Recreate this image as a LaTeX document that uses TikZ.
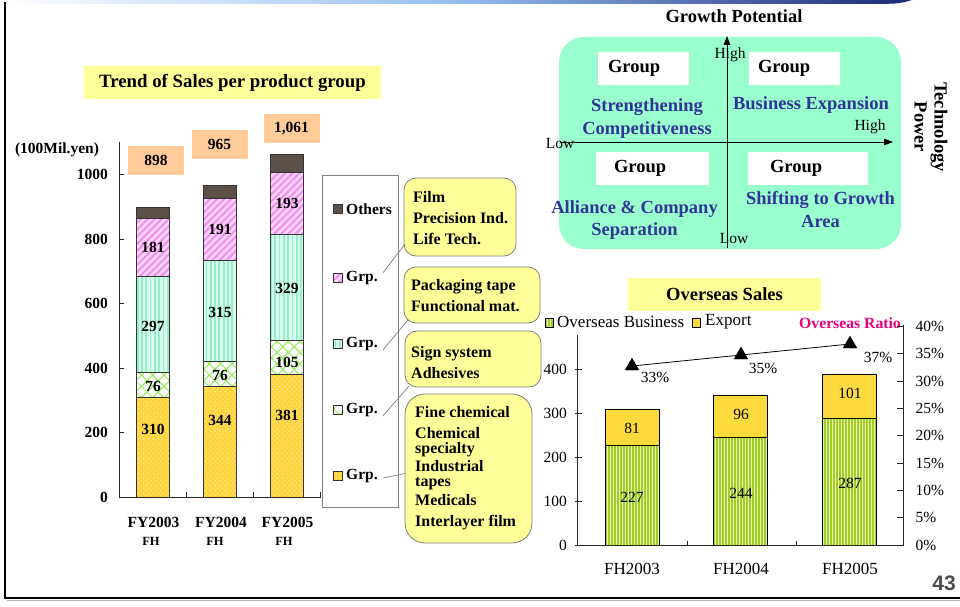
\documentclass[tikz,border=0pt]{standalone}
\usepackage{fontspec}
\setmainfont{Liberation Serif}
\newfontfamily\arialfont{Liberation Sans}
\usetikzlibrary{patterns.meta,shapes.geometric,arrows.meta,calc}
\definecolor{titleyel}{RGB}{255,255,153}
\definecolor{totorange}{RGB}{255,204,153}
\definecolor{quadgreen}{RGB}{153,255,204}
\definecolor{quadblue}{RGB}{51,51,153}
\definecolor{ratiomag}{RGB}{230,0,126}
\definecolor{othersbrown}{RGB}{90,80,72}
\definecolor{yelbase}{RGB}{255,212,60}
\definecolor{yeldot}{RGB}{255,238,160}
\definecolor{mintbase}{RGB}{215,255,238}
\definecolor{mintline}{RGB}{150,238,200}
\definecolor{pinkbase}{RGB}{255,215,255}
\definecolor{pinkline}{RGB}{240,145,240}
\definecolor{crossline}{RGB}{150,235,90}
\definecolor{ovbase}{RGB}{232,246,175}
\definecolor{ovline}{RGB}{160,205,40}
\definecolor{expyel}{RGB}{250,218,60}
\definecolor{navy}{RGB}{30,40,120}
\definecolor{midblue}{RGB}{150,190,240}
\definecolor{calloutgray}{RGB}{128,128,128}
\newcommand{\leftseg}[4]{\path[#4] ({#1-16.5},{497-0.3225*#2}) rectangle ({#1+16.5},{497-0.3225*#3});}
\newcommand{\ovseg}[4]{\path[#4] ({#1-27},{545-0.44*#2}) rectangle ({#1+27},{545-0.44*#3});}
\begin{document}
\begin{tikzpicture}[x=1pt,y=-1pt,
  tb15/.style={font=\fontsize{15.5}{18}\selectfont\bfseries, inner sep=0pt},
  tb12/.style={font=\fontsize{12.5}{14}\selectfont\bfseries, inner sep=0pt},
  tb18/.style={font=\fontsize{18.5}{22}\selectfont\bfseries, inner sep=0pt},
  tr15/.style={font=\fontsize{15.5}{18}\selectfont, inner sep=0pt},
  tr17/.style={font=\fontsize{17}{20}\selectfont, inner sep=0pt},
  calltext/.style={font=\fontsize{16}{21}\selectfont\bfseries, align=left, inner sep=0pt},
  quadtxt/.style={font=\fontsize{18.5}{22.5}\selectfont\bfseries, text=quadblue, align=center, inner sep=0pt},
  callout/.style={draw=calloutgray, fill=titleyel, rounded corners=12pt, line width=0.8pt, inner sep=0pt},
  yelbox/.style={fill=titleyel, inner sep=0pt},
  totbox/.style={fill=totorange, inner sep=0pt, minimum width=56pt, minimum height=29pt, font=\fontsize{15.5}{18}\selectfont\bfseries},
  groupbox/.style={fill=white, inner sep=0pt, minimum height=33pt, align=left, font=\fontsize{18.5}{22}\selectfont\bfseries},
  barline/.style={draw=black!80, line width=0.7pt},
  segyel/.style={barline, preaction={fill=yelbase}, pattern={Dots[radius=0.8pt,distance=3.5pt,angle=45]}, pattern color=yeldot},
  segcross/.style={barline, preaction={fill=white}, pattern={Hatch[angle=45,distance=8pt,line width=1pt]}, pattern color=crossline},
  segmint/.style={barline, preaction={fill=mintbase}, pattern={Lines[angle=90,distance=4.3pt,line width=1.8pt]}, pattern color=mintline},
  segpink/.style={barline, preaction={fill=pinkbase}, pattern={Lines[angle=45,distance=5pt,line width=2.2pt]}, pattern color=pinkline},
  segoth/.style={barline, fill=othersbrown},
  segov/.style={draw=black, line width=0.7pt, preaction={fill=ovbase}, pattern={Lines[angle=90,distance=3pt,line width=1.3pt]}, pattern color=ovline},
  segexp/.style={draw=black, line width=0.7pt, fill=expyel},
  axisline/.style={draw=black!85, line width=0.8pt},
  leader/.style={draw=calloutgray, line width=0.7pt},
  qarrow/.style={-{Triangle[length=9pt,width=6.5pt]}, line width=0.9pt},
  ratiomark/.style={regular polygon, regular polygon sides=3, fill=black, inner sep=0pt, minimum size=16pt}
]
\useasboundingbox (0,0) rectangle (960,607);

% ---------- page decoration ----------
\shade[left color=white, right color=navy, middle color=midblue] (0,0) -- (912,0) .. controls (900,3.5) .. (880,4) -- (0,4) -- cycle;
\draw[line width=2.5pt] (5,2) -- (5,598) -- (960,598);
\draw[gray!55, line width=1pt] (7,600.5) -- (960,600.5);
\node[font=\arialfont\fontsize{21}{24}\selectfont\bfseries, text=black!70, inner sep=0pt] (pagenum) at (944,583) {43};

% ---------- left chart ----------
\node[yelbox, minimum width=297pt, minimum height=33pt, font=\fontsize{18.8}{22}\selectfont\bfseries] (ttl) at (232.5,82.5) {Trend of Sales per product group};
\node[tb15] (unit) at (57,150) {(100Mil.yen)};

\leftseg{153}{0}{310}{segyel}
\leftseg{153}{310}{386}{segcross}
\leftseg{153}{386}{683}{segmint}
\leftseg{153}{683}{864}{segpink}
\leftseg{153}{864}{898}{segoth}
\leftseg{220}{0}{344}{segyel}
\leftseg{220}{344}{420}{segcross}
\leftseg{220}{420}{735}{segmint}
\leftseg{220}{735}{926}{segpink}
\leftseg{220}{926}{965}{segoth}
\leftseg{287}{0}{381}{segyel}
\leftseg{287}{381}{486}{segcross}
\leftseg{287}{486}{815}{segmint}
\leftseg{287}{815}{1008}{segpink}
\leftseg{287}{1008}{1061}{segoth}

\draw[axisline] (119,142) -- (119,497) -- (321,497);
\foreach \v in {0,200,...,1000} {
  \draw[axisline] (119,{497-0.3225*\v}) -- ++(5,0);
  \node[tb15, anchor=east] (ly\v) at (108,{497-0.3225*\v}) {\v};
}
\foreach \xx in {186,253,320} \draw[axisline] (\xx,497) -- ++(0,-5);

\foreach \xx/\yy/\tt [count=\i] in {153/429/310, 153/386/76, 153/326/297, 153/247/181,
    220/420/344, 220/375/76, 220/312/315, 220/229/191,
    287/415/381, 287/362/105, 287/288/329, 287/203/193}
  \node[tb15] (bl\i) at (\xx,\yy) {\tt};

\node[totbox] (tot1) at (156,160.5) {898};
\node[totbox] (tot2) at (219.5,144.5) {965};
\node[totbox] (tot3) at (291.5,128.5) {1,061};

\node[tb15] (fy1) at (153.5,522) {FY2003};
\node[tb15] (fy2) at (221,522) {FY2004};
\node[tb15] (fy3) at (287.5,522) {FY2005};
\node[tb12] (fh1) at (151,541) {FH};
\node[tb12] (fh2) at (215,541) {FH};
\node[tb12] (fh3) at (284,541) {FH};

% legend
\node[draw=calloutgray, line width=0.8pt, minimum width=76pt, minimum height=332pt, inner sep=0pt] (lgbox) at (360,341) {};
\path[segoth] (333,204.5) rectangle (342,213.5);
\path[segpink] (333,273) rectangle (342,282);
\path[segmint] (333,339) rectangle (342,348);
\path[segcross] (333,405) rectangle (342,414);
\path[segyel] (333,471) rectangle (342,480);
\node[tb15, anchor=west] (lg1) at (346,209) {Others};
\node[tb15, anchor=west] (lg2) at (346,278) {Grp.};
\node[tb15, anchor=west] (lg3) at (346,344) {Grp.};
\node[tb15, anchor=west] (lg4) at (346,410) {Grp.};
\node[tb15, anchor=west] (lg5) at (346,476) {Grp.};

% callouts
\node[callout, minimum width=112pt, minimum height=78pt] (c1) at (460,217) {};
\node[callout, minimum width=136pt, minimum height=56pt] (c2) at (472,295) {};
\node[callout, minimum width=136pt, minimum height=56pt] (c3) at (473,359) {};
\node[callout, rounded corners=20pt, minimum width=127pt, minimum height=149pt] (c4) at (468.5,468.5) {};
\node[calltext, anchor=west] (c1t) at (413,218) {Film\\Precision Ind.\\Life Tech.};
\node[calltext, anchor=west] (c2t) at (411,295.5) {Packaging tape\\Functional mat.};
\node[calltext, anchor=west] (c3t) at (411,363) {Sign system\\Adhesives};
\node[calltext, anchor=west] (c4t) at (415,468.5) {Fine chemical\\[0pt]Chemical\\[-6pt]specialty\\[-3pt]Industrial\\[-6pt]tapes\\[-2pt]Medicals\\Interlayer film};

\coordinate (k1) at (405,244);
\coordinate (k2) at (408,320);
\coordinate (k3) at (409,386);
\coordinate (k4) at (405,473.5);
\draw[leader] ([xshift=5pt,yshift=5pt]lg2.east) -- (k1);
\draw[leader] ([xshift=5pt,yshift=-6pt]lg3.east) -- (k2);
\draw[leader] ([xshift=5pt,yshift=-6pt]lg4.east) -- (k3);
\draw[leader] ([xshift=5pt,yshift=-2pt]lg5.east) -- (k4);

% ---------- quadrant ----------
\node[tb18] (gp) at (734,16) {Growth Potential};
\node[fill=quadgreen, rounded corners=25pt, minimum width=342pt, minimum height=212pt, inner sep=0pt] (quad) at (730,143) {};
\node[groupbox, minimum width=91pt, inner xsep=10pt, text width=71pt] (g1) at (643.5,68.5) {Group};
\node[groupbox, minimum width=91pt, inner xsep=9pt, text width=73pt] (g2) at (794.5,68.5) {Group};
\node[groupbox, minimum width=113pt, inner xsep=18pt, text width=77pt] (g3) at (652.5,168.5) {Group};
\node[groupbox, minimum width=120pt, inner xsep=22pt, text width=76pt] (g4) at (808,168.5) {Group};
\coordinate (vb) at (727,248);
\coordinate (vt) at (727,36);
\coordinate (hl) at (560,142);
\coordinate (hr) at (893,142);
\draw[qarrow] (vb) -- (vt);
\draw[qarrow] (hl) -- (hr);
\node[tr15] (hiv) at (730,55) {High};
\node[tr15] (lov) at (734,238) {Low};
\node[tr15] (loh) at (560,144) {Low};
\node[tr15] (hih) at (870,127) {High};
\node[quadtxt, font=\fontsize{18.5}{23}\selectfont\bfseries] (q1) at (647,118.5) {Strengthening\\Competitiveness};
\node[quadtxt] (q2) at (811,105) {Business Expansion};
\node[quadtxt, font=\fontsize{18.5}{22}\selectfont\bfseries] (q3) at (634.5,220) {Alliance \& Company\\Separation};
\node[quadtxt] (q4) at (820.5,209.5) {Shifting to Growth\\Area};
\node[tb18, rotate=-90, align=center, font=\fontsize{18.5}{20}\selectfont\bfseries] (tp) at (931,127) {Technology\\Power};

% ---------- overseas chart ----------
\node[yelbox, minimum width=193pt, minimum height=33pt, font=\fontsize{18.5}{22}\selectfont\bfseries] (ovt) at (724.5,294.5) {Overseas Sales};
\path[segov] (545,318) rectangle (553,327);
\node[tr17, anchor=west] (ol1) at (557,322) {Overseas Business};
\path[segexp] (692,318) rectangle (700,327);
\node[tr17, anchor=west] (ol2) at (705,322) {Export};
\node[font=\fontsize{15.7}{18}\selectfont\bfseries, text=ratiomag, inner sep=0pt] (orl) at (850,323) {Overseas Ratio};

\ovseg{632}{0}{227}{segov}
\ovseg{632}{227}{308}{segexp}
\ovseg{740.5}{0}{244}{segov}
\ovseg{740.5}{244}{340}{segexp}
\ovseg{849.5}{0}{287}{segov}
\ovseg{849.5}{287}{388}{segexp}

\draw[axisline] (577.7,335) -- (577.7,545) -- (903,545) -- (903,325);
\foreach \v in {0,100,...,400} {
  \draw[axisline] (575,{545-0.44*\v}) -- ++(7,0);
  \node[tr15, anchor=east] (oy\v) at (567,{545-0.44*\v}) {\v};
}
\foreach \p in {0,5,...,40} {
  \draw[axisline] (903,{545-5.4625*\p}) -- ++(-6,0);
  \node[tr15, anchor=west] (op\p) at (915.5,{545-5.4625*\p}) {\p\%};
}
\foreach \xx in {687,796} \draw[axisline] (\xx,545) -- ++(0,-4);

\node[tr15] (ov1) at (632,497.5) {227};
\node[tr15] (ex1) at (632,428.5) {81};
\node[tr15] (ov2) at (741,493.5) {244};
\node[tr15] (ex2) at (741,414.5) {96};
\node[tr15] (ov3) at (850,483.5) {287};
\node[tr15] (ex3) at (850,393.5) {101};
\node[tr17] (fx1) at (632,569) {FH2003};
\node[tr17] (fx2) at (741,569) {FH2004};
\node[tr17] (fx3) at (850,569) {FH2005};

\node[ratiomark] (t1) at (632,366) {};
\node[ratiomark] (t2) at (741,355) {};
\node[ratiomark] (t3) at (850,344) {};
\draw[line width=0.8pt] (t1.center) -- (t2.center) -- (t3.center);
\node[ratiomark] at (t1.center) {};
\node[ratiomark] at (t2.center) {};
\node[ratiomark] at (t3.center) {};
\node[tr15] (r1) at (655,377.5) {33\%};
\node[tr15] (r2) at (763,368.5) {35\%};
\node[tr15] (r3) at (878,357) {37\%};
\end{tikzpicture}
\end{document}
